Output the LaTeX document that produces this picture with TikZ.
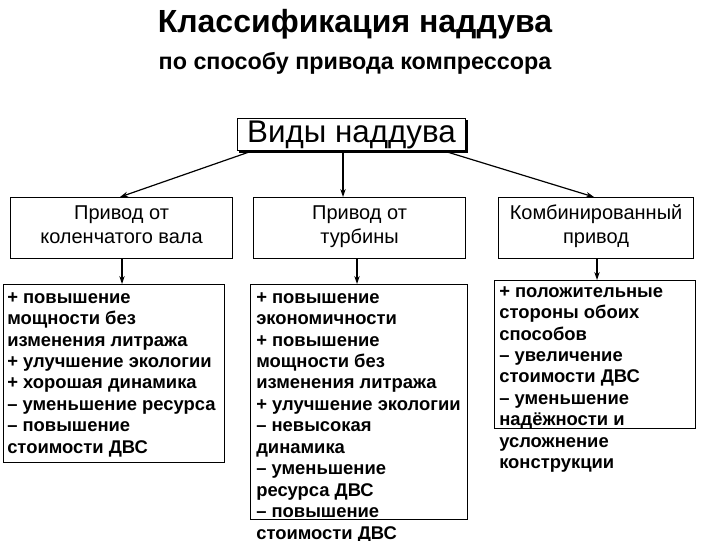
\documentclass[tikz,border=0pt]{standalone}
\usepackage{fontspec}
\setmainfont{Liberation Sans}
\usetikzlibrary{arrows.meta}
\begin{document}
\begin{tikzpicture}[x=0.75pt,y=-0.75pt,
  box/.style={draw,line width=0.8pt,inner sep=0pt},
  head/.style={align=center,font=\fontsize{15}{18}\selectfont},
  body/.style={anchor=north west,align=left,inner sep=0pt,font=\fontsize{13.8}{16.1}\selectfont\bfseries},
  arr/.style={-{Stealth[length=6pt,width=4pt]},line width=0.9pt}]
\useasboundingbox[fill=white] (0,0) rectangle (720,540);
\node (t1) at (355,24) {\fontsize{24}{26}\selectfont\bfseries Классификация наддува};
\node (t2) at (355,63) {\fontsize{17.5}{20}\selectfont\bfseries по способу привода компрессора};
\draw[line width=0.8pt] (239,152)--(467,152)--(467,120);
\node[box,minimum width=228pt*0.75,minimum height=32pt*0.75,anchor=north west] (vid) at (237,118) {};
\node at (vid.center) {\fontsize{23.5}{26}\selectfont Виды наддува};
\node[box,minimum width=222pt*0.75,minimum height=61pt*0.75,anchor=north west] (a) at (10,197) {};
\node[box,minimum width=212pt*0.75,minimum height=61pt*0.75,anchor=north west] (b) at (253,197) {};
\node[box,minimum width=195pt*0.75,minimum height=61pt*0.75,anchor=north west] (c) at (498,197) {};
\node[head] at (a.center) {Привод от\\коленчатого вала\strut};
\node[head] at (b.center) {Привод от\\турбины\strut};
\node[head] at (c.center) {Комбинированный\\привод\strut};
\node[box,minimum width=221pt*0.75,minimum height=178pt*0.75,anchor=north west] (la) at (3,284) {};
\node[box,minimum width=217pt*0.75,minimum height=235pt*0.75,anchor=north west] (lb) at (250,284) {};
\node[box,minimum width=201pt*0.75,minimum height=148pt*0.75,anchor=north west] (lc) at (494,280) {};
\node[body] (ta) at (7,292) {+ повышение\\мощности без\\изменения литража\\+ улучшение экологии\\+ хорошая динамика\\– уменьшение ресурса\\– повышение\\стоимости ДВС};
\node[body] (tb) at (256,292) {+ повышение\\экономичности\\+ повышение\\мощности без\\изменения литража\\+ улучшение экологии\\– невысокая\\динамика\\– уменьшение\\ресурса ДВС\\– повышение\\стоимости ДВС};
\node[body] (tc) at (499,286) {+ положительные\\стороны обоих\\способов\\– увеличение\\стоимости ДВС\\– уменьшение\\надёжности и\\усложнение\\конструкции};
\coordinate (v1) at (252,151);
\coordinate (v3) at (444,151);
\draw[arr] (v1) -- (a.north -| 120,0);
\draw[arr] (vid.south -| 343,0) -- (b.north -| 343,0);
\draw[arr] (v3) -- (c.north -| 594,0);
\draw[arr] (a.south -| 122,0) -- (la.north -| 122,0);
\draw[arr] (b.south -| 357,0) -- (lb.north -| 357,0);
\draw[arr] (c.south -| 597,0) -- (lc.north -| 597,0);
\end{tikzpicture}
\end{document}
